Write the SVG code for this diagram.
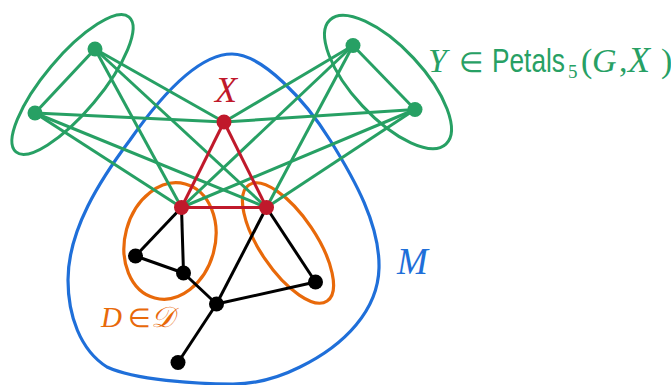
<svg xmlns="http://www.w3.org/2000/svg" width="671" height="385" viewBox="0 0 671 385">
<style>
.g{stroke:#27a064;stroke-width:3;fill:none}
.r{stroke:#c0192b;stroke-width:3;fill:none}
.k{stroke:#000;stroke-width:3;fill:none}
.o{stroke:#e8690a;stroke-width:3.2;fill:none}
.b{stroke:#1f6fd9;stroke-width:3.2;fill:none}
.ng{fill:#27a064}
.nr{fill:#c0192b}
.nk{fill:#000}
.it{font-family:"Liberation Serif",serif;font-style:italic}
.rm{font-family:"Liberation Serif",serif;font-style:normal}
.sf{font-family:"Liberation Sans",sans-serif}
</style>
<g id="sets">
<path id="M-set" class="b" d="M232,54 C262,54 305,100 330,140 C355,180 380,225 379,268 C378,310 345,345 300,367 C280,377 257,384 233,384 C195,384 135,380 107,367 C80,350 68,315 68,280 C68,230 100,180 130,140 C165,90 200,54 232,54 Z"/>
<ellipse id="petal-left" class="g" cx="72.5" cy="84.5" rx="88" ry="28" transform="rotate(-50 72.5 84.5)"/>
<ellipse id="petal-right" class="g" cx="388" cy="82" rx="85" ry="35" transform="rotate(47 388 82)"/>
<ellipse id="D-left" class="o" cx="170" cy="241" rx="45" ry="59" transform="rotate(15 170 241)"/>
<ellipse id="D-right" class="o" cx="288" cy="243" rx="70" ry="28" transform="rotate(56 288 243)"/>
</g>
<g id="connectors">
<line class="g" x1="95" y1="49" x2="35" y2="113"/>
<line class="g" x1="95" y1="49" x2="224" y2="122"/>
<line class="g" x1="95" y1="49" x2="181.5" y2="207.5"/>
<line class="g" x1="95" y1="49" x2="266.5" y2="207.5"/>
<line class="g" x1="35" y1="113" x2="224" y2="122"/>
<line class="g" x1="35" y1="113" x2="181.5" y2="207.5"/>
<line class="g" x1="35" y1="113" x2="266.5" y2="207.5"/>
<line class="g" x1="353" y1="45.5" x2="415" y2="109.5"/>
<line class="g" x1="353" y1="45.5" x2="224" y2="122"/>
<line class="g" x1="353" y1="45.5" x2="181.5" y2="207.5"/>
<line class="g" x1="353" y1="45.5" x2="266.5" y2="207.5"/>
<line class="g" x1="415" y1="109.5" x2="224" y2="122"/>
<line class="g" x1="415" y1="109.5" x2="181.5" y2="207.5"/>
<line class="g" x1="415" y1="109.5" x2="266.5" y2="207.5"/>
<line class="r" x1="224" y1="122" x2="181.5" y2="207.5"/>
<line class="r" x1="224" y1="122" x2="266.5" y2="207.5"/>
<line class="r" x1="181.5" y1="207.5" x2="266.5" y2="207.5"/>
<line class="k" x1="181.5" y1="207.5" x2="135.5" y2="256"/>
<line class="k" x1="181.5" y1="207.5" x2="183.5" y2="273"/>
<line class="k" x1="135.5" y1="256" x2="183.5" y2="273"/>
<line class="k" x1="183.5" y1="273" x2="216.5" y2="304"/>
<line class="k" x1="266.5" y1="207.5" x2="216.5" y2="304"/>
<line class="k" x1="266.5" y1="207.5" x2="315.5" y2="282"/>
<line class="k" x1="216.5" y1="304" x2="315.5" y2="282"/>
<line class="k" x1="216.5" y1="304" x2="178" y2="362.5"/>
</g>
<g id="g1"><circle class="ng" cx="95" cy="49" r="7.5"/></g>
<g id="g2"><circle class="ng" cx="35" cy="113" r="7.5"/></g>
<g id="g3"><circle class="ng" cx="353" cy="45.5" r="7.5"/></g>
<g id="g4"><circle class="ng" cx="415" cy="109.5" r="7.5"/></g>
<g id="x0"><circle class="nr" cx="224" cy="122" r="7.5"/></g>
<g id="x1"><circle class="nr" cx="181.5" cy="207.5" r="7.5"/></g>
<g id="x2"><circle class="nr" cx="266.5" cy="207.5" r="7.5"/></g>
<g id="b1"><circle class="nk" cx="135.5" cy="256" r="7.5"/></g>
<g id="b2"><circle class="nk" cx="183.5" cy="273" r="7.5"/></g>
<g id="b3"><circle class="nk" cx="216.5" cy="304" r="7.5"/></g>
<g id="b4"><circle class="nk" cx="315.5" cy="282" r="7.5"/></g>
<g id="b5"><circle class="nk" cx="178" cy="362.5" r="7.5"/></g>
<g id="labels" fill="#27a064">
<text class="it" x="226" y="102" font-size="36" fill="#c0192b" text-anchor="middle">X</text>
<text class="it" x="428" y="72" font-size="34">Y</text>
<text class="rm" x="459" y="72" font-size="28">∈</text>
<text class="sf" font-size="33" transform="translate(492 72) scale(0.796 1)">Petals</text>
<text class="rm" x="568" y="78" font-size="19">5</text>
<text class="rm" x="581" y="72" font-size="34">(</text>
<text class="it" x="592" y="72" font-size="34">G</text>
<text class="rm" x="619" y="72" font-size="34">,</text>
<text class="it" x="628" y="72" font-size="36">X</text>
<text class="rm" x="661" y="72" font-size="34">)</text>
<text class="it" x="397" y="274" font-size="37" fill="#1f6fd9">M</text>
<text y="327" font-size="29" fill="#e8690a"><tspan class="it" x="101">D</tspan><tspan class="rm" x="128" font-size="26">∈</tspan><tspan class="it" x="151">𝒟</tspan></text>
</g>
</svg>
